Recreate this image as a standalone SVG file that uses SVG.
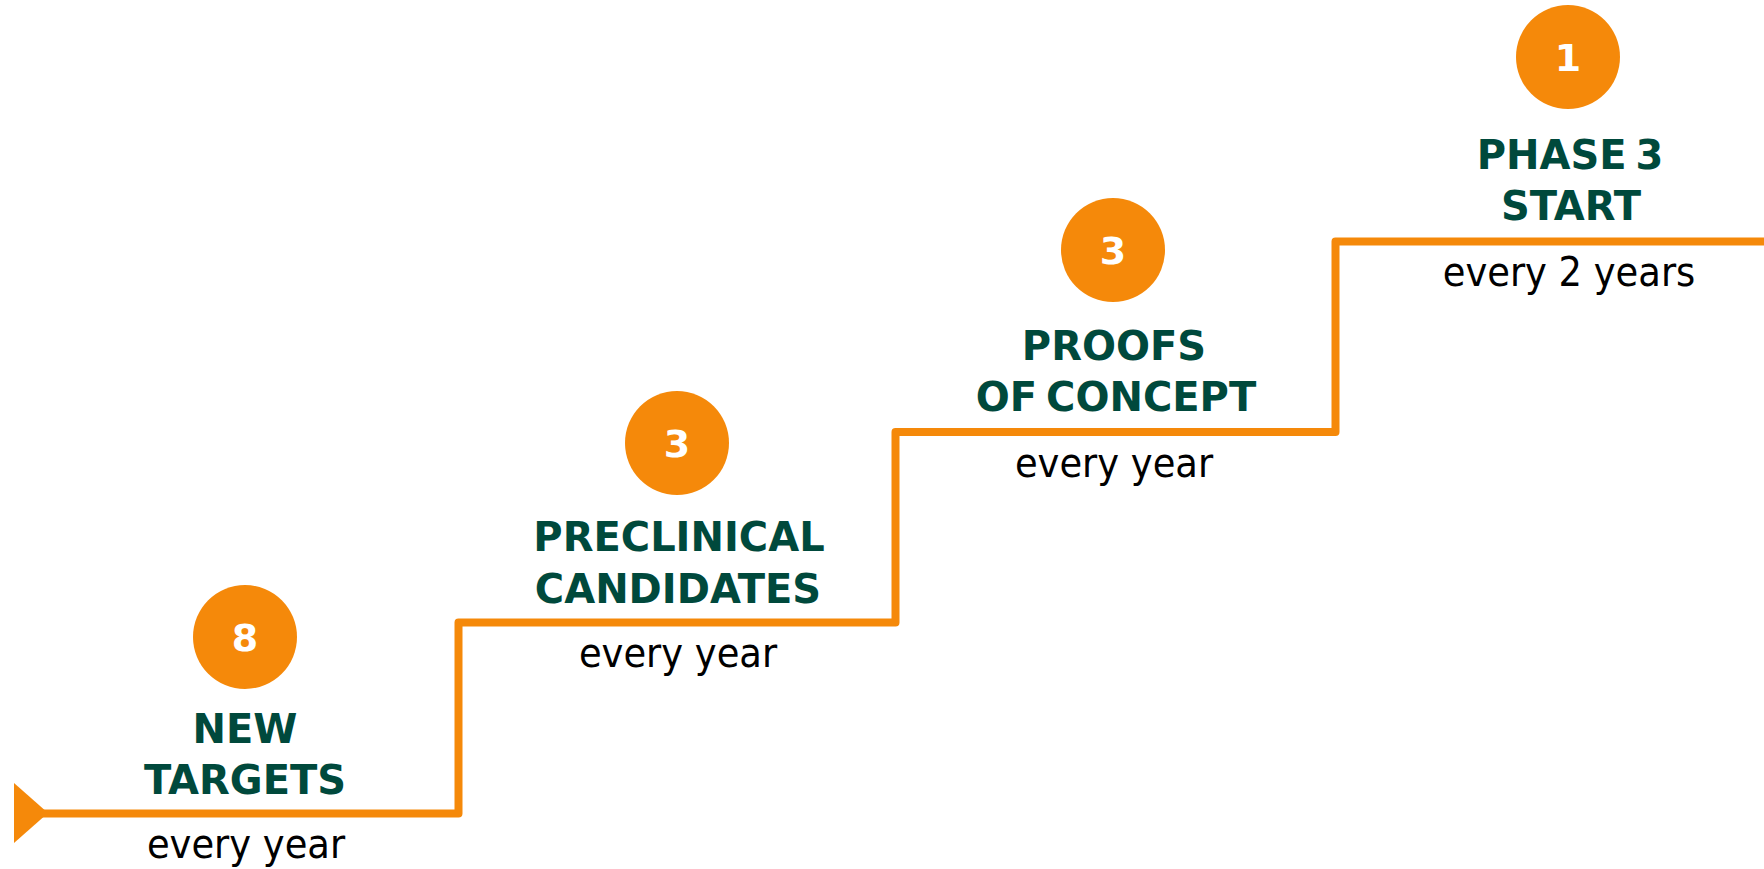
<svg xmlns="http://www.w3.org/2000/svg" width="1764" height="869" viewBox="0 0 1764 869">
<style>
.badge{fill:#F5890A}
.num{font-family:"DejaVu Sans",sans-serif;font-weight:bold;font-size:38px;fill:#ffffff;text-anchor:middle}
.title{font-family:"DejaVu Sans",sans-serif;font-weight:bold;font-size:40px;word-spacing:-5px;fill:#00493C;text-anchor:middle}
.freq{font-family:"DejaVu Sans Condensed","DejaVu Sans",sans-serif;font-stretch:condensed;font-size:41px;fill:#000000;text-anchor:middle}
.stair{fill:none;stroke:#F5890A;stroke-width:8;stroke-linejoin:round}
</style>
<rect width="1764" height="869" fill="#ffffff"/>
<g id="connectors">
<path class="stair" d="M40 813.5 H458.5 V622.5 H895.5 V432 H1335.5 V241.5 H1770"/>
<polygon points="14,783 14,843 48,813" fill="#F5890A"/>
</g>
<g id="node-new-targets">
<circle class="badge" cx="245" cy="637" r="52"/>
<text class="num" x="245" y="651">8</text>
<text class="title" x="245" y="743">NEW</text>
<text class="title" x="245" y="794">TARGETS</text>
<text class="freq" x="246" y="858">every year</text>
</g>
<g id="node-preclinical">
<circle class="badge" cx="677" cy="443" r="52"/>
<text class="num" x="677" y="457">3</text>
<text class="title" x="679" y="551">PRECLINICAL</text>
<text class="title" x="678" y="603">CANDIDATES</text>
<text class="freq" x="678" y="667">every year</text>
</g>
<g id="node-proofs">
<circle class="badge" cx="1113" cy="250" r="52"/>
<text class="num" x="1113" y="264">3</text>
<text class="title" x="1114" y="360">PROOFS</text>
<text class="title" x="1116" y="411">OF CONCEPT</text>
<text class="freq" x="1114" y="477">every year</text>
</g>
<g id="node-phase3">
<circle class="badge" cx="1568" cy="57" r="52"/>
<text class="num" x="1568" y="71">1</text>
<text class="title" x="1570" y="169">PHASE 3</text>
<text class="title" x="1571" y="220">START</text>
<text class="freq" x="1569" y="286">every 2 years</text>
</g>
</svg>
